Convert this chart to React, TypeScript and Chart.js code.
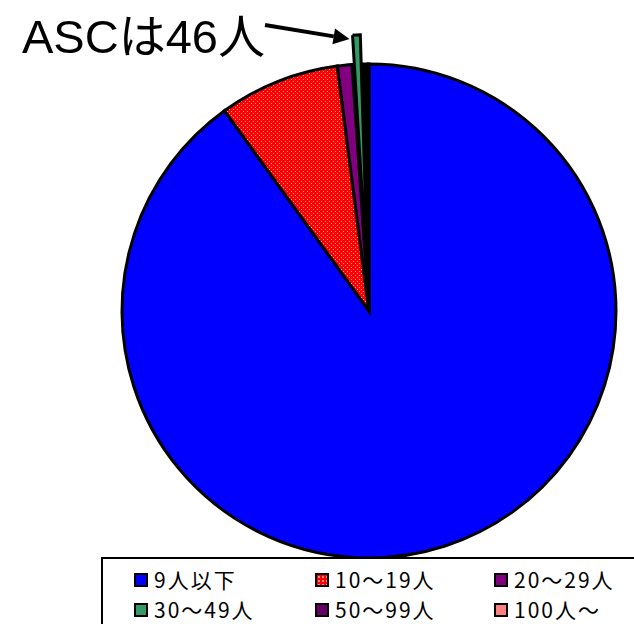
import React, { useEffect, useRef } from "react";
import { Chart, registerables } from "chart.js";

Chart.register(...registerables);

const categories = ["9人以下", "10～19人", "20～29人", "30～49人", "50～99人", "100人～"];
const shares = [90.05, 7.9, 0.95, 0.75, 0.2, 0.15];
const colors = ["#0000FF", "#FF0000", "#800080", "#339966", "#660066", "#FF8080"];
const offsets = [0, 0, 0, 60, 0, 0];
const annotationText = "ASCは46人";
const annotationIndex = 3;

function makeDotPattern(): CanvasPattern | string {
  const c = document.createElement("canvas");
  c.width = 4;
  c.height = 4;
  const ctx = c.getContext("2d");
  if (!ctx) return "#FF0000";
  ctx.fillStyle = "#FF0000";
  ctx.fillRect(0, 0, 4, 4);
  ctx.fillStyle = "#FFB4B4";
  ctx.fillRect(1, 1, 1, 1);
  ctx.fillRect(3, 3, 1, 1);
  const p = ctx.createPattern(c, "repeat");
  return p || "#FF0000";
}

const annotationPlugin = {
  id: "ascAnnotation",
  afterDatasetsDraw(chart: any) {
    const ctx = chart.ctx;
    const arc = chart.getDatasetMeta(0).data[annotationIndex];
    if (!arc) return;
    const { x, y, startAngle, endAngle, outerRadius } = arc.getProps(
      ["x", "y", "startAngle", "endAngle", "outerRadius"],
      true
    );
    const circ = endAngle - startAngle;
    const q = offsets[annotationIndex] / 4;
    const ext = q + q * (1 - Math.sin(Math.min(Math.PI, circ)));
    const mid = (startAngle + endAngle) / 2;
    const r = outerRadius + ext - 2;
    const tipX = x + Math.cos(mid) * r - 7;
    const tipY = y + Math.sin(mid) * r + 2;
    const startX = 265;
    const startY = 25;
    ctx.save();
    ctx.fillStyle = "#000";
    ctx.font = '47px "Liberation Sans", "Noto Sans CJK JP", sans-serif';
    ctx.textBaseline = "alphabetic";
    ctx.fillText(annotationText, 22, 53);
    const ang = Math.atan2(tipY - startY, tipX - startX);
    const headLen = 16;
    const headW = 8;
    const bx = tipX - Math.cos(ang) * headLen;
    const by = tipY - Math.sin(ang) * headLen;
    ctx.strokeStyle = "#000";
    ctx.lineWidth = 4;
    ctx.beginPath();
    ctx.moveTo(startX, startY);
    ctx.lineTo(bx, by);
    ctx.stroke();
    ctx.beginPath();
    ctx.moveTo(tipX, tipY);
    ctx.lineTo(bx + Math.sin(ang) * headW, by - Math.cos(ang) * headW);
    ctx.lineTo(bx - Math.sin(ang) * headW, by + Math.cos(ang) * headW);
    ctx.closePath();
    ctx.fill();
    ctx.restore();
  },
};

export default function App() {
  const canvasRef = useRef<HTMLCanvasElement | null>(null);

  useEffect(() => {
    if (!canvasRef.current) return;
    const pattern = makeDotPattern();
    const fills = colors.map((c, i) => (i === 1 ? pattern : c));
    const chart = new Chart(canvasRef.current, {
      type: "pie",
      data: {
        labels: categories,
        datasets: [
          {
            data: shares,
            backgroundColor: fills as any,
            borderColor: "#000000",
            borderWidth: 3,
            offset: offsets,
            borderJoinStyle: "miter",
          } as any,
        ],
      },
      options: {
        animation: false,
        responsive: false,
        maintainAspectRatio: false,
        layout: { padding: { left: 90.5, top: 32.5, right: 12.5, bottom: 34.5 } },
        plugins: {
          legend: { display: false },
          tooltip: { enabled: false },
        },
      },
      plugins: [annotationPlugin],
    });
    return () => chart.destroy();
  }, []);

  const legendFont = '"Noto Sans CJK JP", "Noto Sans", sans-serif';
  const colX = [134, 315, 494];
  const rowY = [573, 603];

  return (
    <div style={{ position: "absolute", left: 0, top: 0, width: 634, height: 624, overflow: "hidden", background: "#fff" }}>
      <canvas ref={canvasRef} width={660} height={624} style={{ position: "absolute", left: 0, top: 0, width: 660, height: 624 }} />
      <div
        style={{
          position: "absolute",
          left: 101,
          top: 557,
          width: 560,
          height: 100,
          border: "2px solid #000",
          background: "#fff",
          boxSizing: "border-box",
        }}
      />
      {categories.map((cat, i) => {
        const col = i % 3;
        const row = Math.floor(i / 3);
        const isPattern = i === 1;
        return (
          <div key={cat}>
            <div
              style={{
                position: "absolute",
                left: colX[col],
                top: rowY[row],
                width: 14,
                height: 14,
                boxSizing: "border-box",
                border: "2px solid #000",
                background: isPattern
                  ? "radial-gradient(circle, #FFB4B4 0.6px, #FF0000 1px) 0 0 / 4px 4px, #FF0000"
                  : colors[i],
              }}
            />
            <div
              style={{
                position: "absolute",
                left: colX[col] + 20,
                top: rowY[row] - 8,
                fontFamily: legendFont,
                fontSize: 21,
                lineHeight: "28px",
                letterSpacing: 2,
                color: "#000",
                whiteSpace: "nowrap",
              }}
            >
              {cat}
            </div>
          </div>
        );
      })}
    </div>
  );
}
